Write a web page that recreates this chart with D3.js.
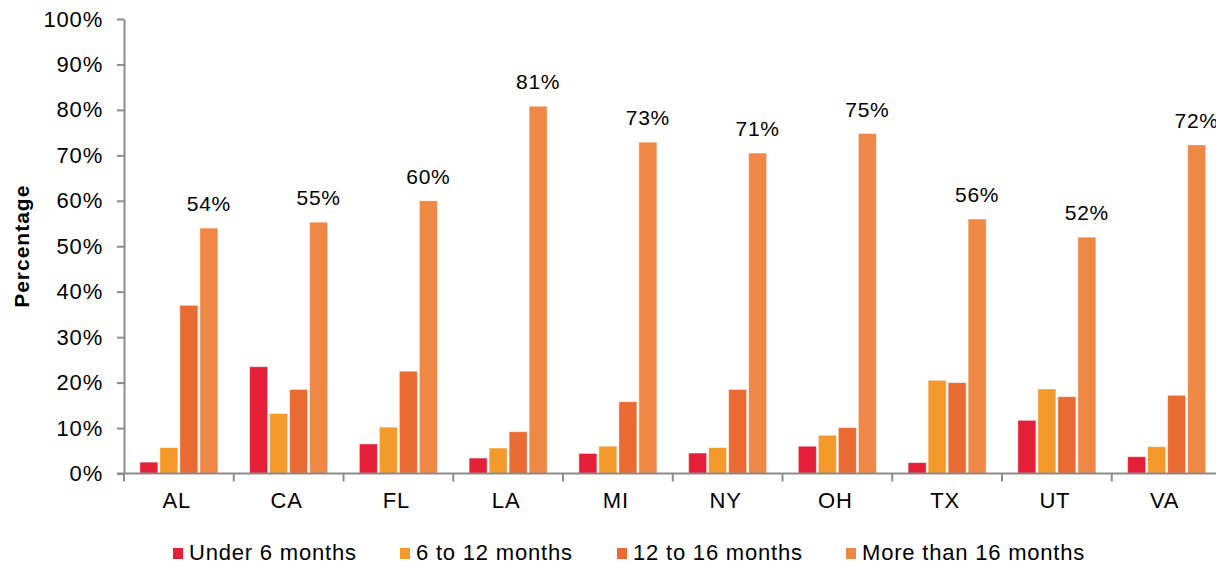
<!DOCTYPE html>
<html>
<head>
<meta charset="utf-8">
<script src="https://cdn.jsdelivr.net/npm/d3@7"></script>
<style>
  html, body { margin: 0; padding: 0; background: #fff; }
  svg { display: block; font-family: "Liberation Sans", Arial, sans-serif; }
</style>
</head>
<body>
<svg id="chart" width="1216" height="567"></svg>
<script>
const categories = ["AL", "CA", "FL", "LA", "MI", "NY", "OH", "TX", "UT", "VA"];
const seriesNames = ["Under 6 months", "6 to 12 months", "12 to 16 months", "More than 16 months"];
const under6 = [2.5, 23.5, 6.5, 3.4, 4.4, 4.5, 6.0, 2.4, 11.7, 3.7];
const from6to12 = [5.7, 13.2, 10.2, 5.6, 6.0, 5.7, 8.4, 20.5, 18.6, 5.9];
const from12to16 = [37.0, 18.5, 22.5, 9.2, 15.8, 18.5, 10.1, 20.0, 16.9, 17.2];
const over16 = [54.0, 55.3, 60.0, 80.8, 72.9, 70.5, 74.8, 56.0, 52.0, 72.3];
const over16Labels = ["54%", "55%", "60%", "81%", "73%", "71%", "75%", "56%", "52%", "72%"];
const yTicks = [0, 10, 20, 30, 40, 50, 60, 70, 80, 90, 100];
const colors = ["#E61F38", "#F39A2A", "#EA6A33", "#EF8745"];

(function () {
const seriesValues = [under6, from6to12, from12to16, over16];

const svg = d3.select("#chart");
const mLeft = 124, mRight = 1221.5, mTop = 19, mBottom = 473.5;

const x = d3.scaleBand().domain(categories).range([mLeft, mRight]).paddingInner(0).paddingOuter(0);
const xs = d3.scaleBand().domain(seriesNames).range([0, 78]).paddingInner(0.1);
const groupOffset = (x.bandwidth() - 78) / 2;
const y = d3.scaleLinear().domain([0, 100]).range([mBottom, mTop]);

const fontSize = 22;
const ls = "0.8px";
const axisColor = "#8c8c8c";

// Bars
seriesNames.forEach((s, si) => {
  svg.append("g").selectAll("rect")
    .data(categories.map((c, i) => ({ c, v: seriesValues[si][i] })))
    .join("rect")
    .attr("x", d => x(d.c) + groupOffset + xs(s))
    .attr("y", d => y(d.v))
    .attr("width", xs.bandwidth())
    .attr("height", d => y(0) - y(d.v))
    .attr("fill", colors[si])
    .attr("stroke", "#ffffff")
    .attr("stroke-opacity", 0.45)
    .attr("stroke-width", 1);
});

// Data labels
svg.append("g").selectAll("text")
  .data(categories.map((c, i) => ({ c, v: over16[i], t: over16Labels[i] })))
  .join("text")
  .attr("x", d => x(d.c) + groupOffset + xs(seriesNames[3]) + xs.bandwidth() / 2)
  .attr("y", d => y(d.v) - 17)
  .attr("text-anchor", "middle")
  .attr("font-size", fontSize - 1)
  .attr("letter-spacing", ls)
  .attr("fill", "#000")
  .text(d => d.t);

// Y axis
const yAxis = d3.axisLeft(y).tickValues(yTicks).tickFormat(d => d + "%").tickSize(7).tickSizeOuter(0).tickPadding(14);
const gy = svg.append("g").attr("transform", `translate(${mLeft},0)`).call(yAxis);
gy.select(".domain").attr("stroke", axisColor).attr("stroke-width", 2);
gy.selectAll(".tick line").attr("stroke", axisColor).attr("stroke-width", 2);
gy.selectAll(".tick text").attr("font-size", fontSize).attr("letter-spacing", ls).attr("fill", "#000").attr("font-family", "Liberation Sans, Arial, sans-serif");

// X axis
const xAxisLine = svg.append("g");
xAxisLine.append("line")
  .attr("x1", mLeft - 7).attr("x2", 1216)
  .attr("y1", y(0)).attr("y2", y(0))
  .attr("stroke", axisColor).attr("stroke-width", 2);
const boundaries = categories.map(c => x(c));
xAxisLine.selectAll("line.tk")
  .data(boundaries)
  .join("line")
  .attr("class", "tk")
  .attr("x1", d => d).attr("x2", d => d)
  .attr("y1", y(0)).attr("y2", y(0) + 8)
  .attr("stroke", axisColor).attr("stroke-width", 2);
svg.append("g").selectAll("text")
  .data(categories)
  .join("text")
  .attr("x", d => x(d) + x.bandwidth() / 2 - 2)
  .attr("y", 508)
  .attr("text-anchor", "middle")
  .attr("font-size", fontSize)
  .attr("letter-spacing", ls)
  .attr("fill", "#000")
  .text(d => d);

// Y axis title
svg.append("text")
  .attr("transform", `translate(29,${(mTop + mBottom) / 2}) rotate(-90)`)
  .attr("text-anchor", "middle")
  .attr("font-size", fontSize - 1)
  .attr("font-weight", "bold")
  .attr("letter-spacing", "1px")
  .attr("fill", "#000")
  .text("Percentage");

// Legend
const legendX = [173, 400, 617, 846];
const lg = svg.append("g").selectAll("g")
  .data(seriesNames)
  .join("g")
  .attr("transform", (d, i) => `translate(${legendX[i]},0)`);
lg.append("rect")
  .attr("x", 0).attr("y", 548).attr("width", 10).attr("height", 11)
  .attr("fill", (d, i) => colors[i]);
lg.append("text")
  .attr("x", 16).attr("y", 560)
  .attr("font-size", fontSize)
  .attr("letter-spacing", ls)
  .attr("fill", "#000")
  .text(d => d);
})();
</script>
</body>
</html>
